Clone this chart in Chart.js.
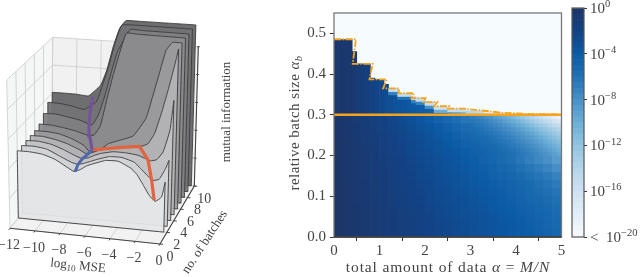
<!DOCTYPE html>
<html>
<head>
<meta charset="utf-8">
<title>mutual information and batch size</title>
<script src="https://cdn.jsdelivr.net/npm/chart.js@4/dist/chart.umd.min.js"></script>
<style>
  html, body { margin: 0; padding: 0; background: #fff; }
  canvas { position: absolute; top: 0; }
  #surface { left: 0; }
  #heatmap { left: 270px; }
  #colorbar { left: 560px; }
</style>
</head>
<body>
<canvas id="surface" width="270" height="277"></canvas>
<canvas id="heatmap" width="300" height="277"></canvas>
<canvas id="colorbar" width="80" height="277"></canvas>
<script>
// ---------- data: left panel, mutual information against log10 MSE ----------
const logMseGrid = [-12, -11, -10, -9, -8, -7.5, -7, -6.5, -6, -5, -4, -3, -2.5, -2, -1.5, -1, -0.5, -0.25];
const batchCounts = [2, 3, 4, 5, 6, 7, 8, 9, 10];
const miBatch2 = [.459, .46, .452, .425, .377, .355, .373, .402, .42, .452, .455, .416, .377, .311, .243, .205, .239, .343];
const miBatch3 = [.462, .465, .454, .415, .378, .369, .381, .398, .415, .443, .445, .42, .381, .341, .307, .319, .397, .456];
const miBatch4 = [.464, .467, .454, .425, .388, .374, .383, .404, .421, .441, .441, .432, .416, .401, .413, .471, .625, .834];
const miBatch5 = [.466, .467, .453, .43, .395, .373, .384, .402, .416, .435, .444, .458, .48, .553, .695, .863, 1.052, 1.158];
const miBatch6 = [.467, .467, .458, .432, .392, .347, .362, .383, .418, .451, .486, .617, .772, .939, 1.106, 1.164, 1.166, 1.166];
const miBatch7 = [.48, .479, .467, .451, .427, .432, .5, .687, .866, 1.166, 1.166, 1.166, 1.166, 1.166, 1.166, 1.166, 1.166, 1.166];
const miBatch8 = [.521, .524, .509, .493, .465, .538, .671, .84, .995, 1.16, 1.16, 1.16, 1.16, 1.16, 1.16, 1.16, 1.16, 1.16];
const miBatch9 = [.567, .565, .552, .534, .595, .717, .862, 1.032, 1.153, 1.16, 1.16, 1.16, 1.16, 1.16, 1.16, 1.16, 1.16, 1.16];
const miBatch10 = [.605, .605, .603, .596, .679, .791, .962, 1.096, 1.153, 1.155, 1.155, 1.155, 1.155, 1.155, 1.155, 1.155, 1.155, 1.155];
const miCurves = [miBatch2, miBatch3, miBatch4, miBatch5, miBatch6, miBatch7, miBatch8, miBatch9, miBatch10];

// branches of minima: [log10 MSE, no. of batches, mutual information]
const blueMse = [-7.42, -7.5, -7.48, -7.42, -7.33];
const blueBatch = [2, 3, 4, 5, 6];
const blueMi = [.354, .369, .373, .364, .365];
const purpleMse = [-7.33, -7.84, -8.25, -8.5, -8.64];
const purpleBatch = [6, 7, 8, 9, 10];
const purpleMi = [.365, .418, .462, .52, .593];
const redMse = [-1.08, -1.6, -2.19, -3.19, -5.1, -7.25];
const redBatch = [2, 3, 4, 5, 5.5, 6];
const redMi = [.211, .31, .404, .456, .415, .365];

const mseTicks = [-12, -10, -8, -6, -4, -2, 0];
const batchTicks = [0, 2, 4, 6, 8, 10];
const miTicks = [0, .2, .4, .6, .8, 1];

// ---------- data: heatmap, exponent e of the error 10^-e ----------
const lowerAlpha = [.1, .3, .5, .7, .9, 1.1, 1.3, 1.5, 1.7, 1.9, 2.1, 2.3, 2.5, 2.7, 2.9, 3.1, 3.3, 3.5, 3.7, 3.9, 4.1, 4.3, 4.5, 4.7, 4.9];
const lowerBatch = [.01, .03, .05, .07, .09, .11, .13, .15, .17, .19, .21, .23, .25, .27, .29];
const lowerExp = [
  [.1, .3, .5, .7, .9, 1.1, 1.3, 1.5, 1.7, 1.9, 2.1, 2.3, 2.5, 2.7, 2.9, 3.1, 3.3, 3.5, 3.7, 3.9, 4.1, 4.3, 4.5, 4.8, 5.1],
  [.1, .3, .5, .7, .9, 1.1, 1.3, 1.5, 1.7, 1.9, 2.1, 2.3, 2.5, 2.7, 2.9, 3.1, 3.3, 3.5, 3.7, 3.9, 4.1, 4.4, 4.6, 4.9, 5.2],
  [.1, .3, .5, .7, .9, 1.1, 1.3, 1.5, 1.7, 2, 2.2, 2.4, 2.6, 2.8, 3, 3.2, 3.4, 3.6, 3.8, 4, 4.3, 4.5, 4.8, 5, 5.3],
  [.1, .3, .5, .7, .95, 1.15, 1.35, 1.6, 1.8, 2, 2.3, 2.5, 2.7, 2.9, 3.1, 3.3, 3.5, 3.8, 4, 4.2, 4.5, 4.7, 5, 5.2, 5.5],
  [.1, .3, .6, .8, 1, 1.2, 1.4, 1.7, 1.9, 2.1, 2.4, 2.6, 2.8, 3, 3.2, 3.5, 3.7, 3.9, 4.2, 4.4, 4.7, 5, 5.2, 5.5, 5.8],
  [.1, .3, .6, .8, 1, 1.25, 1.5, 1.7, 2, 2.2, 2.4, 2.7, 2.9, 3.1, 3.4, 3.6, 3.8, 4.1, 4.3, 4.6, 4.9, 5.2, 5.5, 5.8, 6.2],
  [.1, .3, .6, .8, 1, 1.3, 1.5, 1.8, 2, 2.3, 2.5, 2.8, 3, 3.3, 3.5, 3.8, 4, 4.3, 4.5, 4.8, 5.1, 5.4, 5.8, 6.2, 6.6],
  [.1, .4, .6, .9, 1.1, 1.3, 1.6, 1.9, 2.1, 2.4, 2.6, 2.9, 3.1, 3.4, 3.6, 3.9, 4.2, 4.5, 4.8, 5.1, 5.4, 5.8, 6.2, 6.6, 7.1],
  [.1, .4, .6, .9, 1.1, 1.4, 1.6, 1.9, 2.2, 2.5, 2.7, 3, 3.3, 3.5, 3.8, 4.1, 4.4, 4.7, 5.1, 5.4, 5.9, 6.3, 6.8, 7.3, 7.9],
  [.1, .4, .7, .9, 1.2, 1.4, 1.7, 2, 2.3, 2.6, 2.8, 3.1, 3.4, 3.7, 4, 4.3, 4.7, 5, 5.4, 5.8, 6.4, 6.9, 7.5, 8.1, 8.8],
  [.1, .4, .7, .9, 1.2, 1.5, 1.8, 2.1, 2.4, 2.7, 3, 3.3, 3.6, 3.9, 4.2, 4.6, 5, 5.4, 5.9, 6.4, 7.1, 7.7, 8.4, 9.2, 10],
  [.1, .4, .7, 1, 1.3, 1.6, 1.9, 2.2, 2.5, 2.8, 3.2, 3.5, 3.9, 4.2, 4.6, 5, 5.4, 5.9, 6.5, 7.1, 7.9, 8.7, 9.6, 10.4, 11.2],
  [.2, .5, .8, 1.1, 1.4, 1.7, 2, 2.3, 2.7, 3, 3.4, 3.8, 4.2, 4.6, 5, 5.4, 6, 6.6, 7.3, 8, 9.1, 10, 11, 12, 12.8],
  [.2, .5, .8, 1.1, 1.5, 1.8, 2.2, 2.5, 2.9, 3.3, 3.7, 4.1, 4.6, 5, 5.5, 6, 6.7, 7.5, 8.4, 9.4, 11, 12, 13.2, 14.3, 15.3],
  [.2, .5, .9, 1.2, 1.6, 1.9, 2.3, 2.7, 3.2, 3.6, 4.2, 4.7, 5.2, 5.7, 6.3, 7, 8, 9.2, 10.4, 11.8, 13.8, 15, 16.2, 17.4, 18.6]
];

// finer cells where the colour changes fast, top right corner under the line
const detailAlpha = [3.05, 3.15, 3.25, 3.35, 3.45, 3.55, 3.65, 3.75, 3.85, 3.95, 4.05, 4.15, 4.25, 4.35, 4.45, 4.55, 4.65, 4.75, 4.85, 4.95];
const detailBatch = [.205, .215, .225, .235, .245, .255, .265, .275, .285, .295];
const detailExp = [
  [4.4, 4.5, 4.6, 4.8, 4.9, 5.1, 5.3, 5.5, 5.7, 5.9, 6.2, 6.5, 6.8, 7.1, 7.4, 7.8, 8.2, 8.6, 9, 9.5],
  [4.5, 4.6, 4.8, 4.9, 5.1, 5.3, 5.5, 5.7, 6, 6.2, 6.5, 6.8, 7.1, 7.5, 7.8, 8.2, 8.6, 9.1, 9.6, 10.1],
  [4.7, 4.8, 5, 5.1, 5.3, 5.5, 5.8, 6, 6.3, 6.6, 6.9, 7.2, 7.5, 7.9, 8.3, 8.7, 9.2, 9.7, 10.2, 10.7],
  [4.9, 5, 5.2, 5.4, 5.6, 5.8, 6.1, 6.3, 6.6, 6.9, 7.3, 7.6, 8, 8.4, 8.8, 9.3, 9.8, 10.3, 10.9, 11.4],
  [5.1, 5.3, 5.4, 5.6, 5.9, 6.1, 6.4, 6.7, 7, 7.3, 7.7, 8.1, 8.5, 8.9, 9.4, 9.9, 10.4, 11, 11.6, 12.2],
  [5.3, 5.5, 5.7, 5.9, 6.2, 6.5, 6.8, 7.1, 7.4, 7.8, 8.2, 8.6, 9.1, 9.5, 10, 10.6, 11.2, 11.8, 12.4, 13],
  [5.6, 5.8, 6, 6.3, 6.6, 6.9, 7.2, 7.6, 8, 8.4, 8.8, 9.3, 9.8, 10.3, 10.9, 11.5, 12.1, 12.8, 13.4, 14.1],
  [5.9, 6.2, 6.4, 6.7, 7, 7.4, 7.8, 8.2, 8.6, 9.1, 9.6, 10.1, 10.7, 11.3, 11.9, 12.6, 13.3, 14, 14.7, 15.4],
  [6.3, 6.6, 6.9, 7.2, 7.6, 8, 8.4, 8.9, 9.4, 9.9, 10.5, 11.1, 11.8, 12.5, 13.2, 13.9, 14.7, 15.4, 16.2, 17],
  [6.8, 7.1, 7.5, 7.9, 8.3, 8.8, 9.3, 9.8, 10.4, 11, 11.7, 12.4, 13.1, 13.9, 14.7, 15.5, 16.3, 17.1, 18, 18.8]
];

// region above alpha_b = 0.3: column, top edge, body exponent, cap cells
const upperAlpha = [.05, .15, .25, .35, .45, .55, .65, .75, .85, .95, 1.05, 1.15, 1.25, 1.35, 1.45, 1.55, 1.65, 1.75, 1.85, 1.95, 2.05, 2.15, 2.25, 2.35, 2.45, 2.55, 2.65, 2.75, 2.85, 2.95, 3.05, 3.15, 3.25, 3.35, 3.45, 3.55, 3.65];
const upperEdge = [.485, .485, .485, .485, .455, .425, .425, .425, .39, .387, .387, .375, .365, .365, .353, .353, .353, .345, .341, .341, .331, .331, .321, .321, .321, .315, .315, .315, .315, .31, .31, .31, .31, .305, .305, .305, .305];
const upperBody = [.4, .4, .4, .4, .6, 1.2, 1.4, 1.6, 2, 2.2, 2.5, 2.9, 3, 3.3, 3.4, 3.6, 3.8, 4, 4.1, 4.3, 4.4, 4.6, 4.8, 5, 5.3, 8, 8.5, 9, 10, 14, 14, 14.5, 15, 17, 17, 17.5, 18];
const upperCaps = [[], [], [], [], [], [], [], [], [], [], [], [], [7, 15], [7, 15], [6, 15], [6, 15], [6, 15], [7, 15], [7, 15], [7, 15], [8, 15], [8, 15], [10, 16], [10, 16], [10, 16], [15], [15], [15], [15], [], [], [], [], [], [], [], []];

// orange boundaries
const edgeAlpha = [0, .483, .41, .85, .78, 1.16, 1.08, 1.43, 1.42, 1.76, 1.7, 2.01, 1.96, 2.27, 2.2, 2.53, 2.5, 2.86, 3.3, 3.7, 4.3, 5];
const edgeBatch = [.4855, .4855, .425, .425, .387, .387, .365, .365, .353, .353, .341, .341, .331, .331, .321, .321, .315, .315, .31, .305, .302, .301];
const lineAlpha = [0, 5];
const lineBatch = [.3, .3];

const alphaTicks = [0, 1, 2, 3, 4, 5];
const batchSizeTicks = [0, .1, .2, .3, .4, .5];

// colour bar
const barLevels = [0, .5, 1, 1.5, 2, 2.5, 3, 3.5, 4, 4.5, 5, 5.5, 6, 6.5, 7, 7.5, 8, 8.5, 9, 9.5, 10, 10.5, 11, 11.5, 12, 12.5, 13, 13.5, 14, 14.5, 15, 15.5, 16, 16.5, 17, 17.5, 18, 18.5, 19, 19.5];
const barTicks = [0, 4, 8, 12, 16, 20];

// ---------- colours ----------
const colorStops = [[0, 28, 53, 103], [2, 19, 66, 132], [4, 11, 90, 165], [6, 33, 113, 181], [8, 72, 143, 198], [10, 107, 174, 214], [12, 146, 196, 224], [14, 180, 212, 233], [16, 207, 225, 241], [18, 226, 237, 247], [20, 246, 250, 253]];
const sliceColors = ['rgba(228,229,232,.94)', 'rgba(210,211,214,.94)', 'rgba(195,196,198,.94)', 'rgba(180,180,182,.94)', 'rgba(155,155,157,.94)', 'rgba(140,140,142,.94)', 'rgba(128,128,130,.94)', 'rgba(115,115,117,.95)', 'rgba(104,104,106,.96)'];
const textColor = '#444';
const serif = '"Liberation Serif", serif';

function expColor(e) {
  for (let i = 1; i < colorStops.length; i++) {
    const a = colorStops[i - 1], b = colorStops[i];
    if (e <= b[0]) {
      const t = (e - a[0]) / (b[0] - a[0]);
      return 'rgb(' + [1, 2, 3].map(k => Math.round(a[k] + (b[k] - a[k]) * t)).join(',') + ')';
    }
  }
  return 'rgb(246,250,253)';
}

// write a label made of normal, italic, subscript and superscript pieces
function richText(ctx, parts, x, y, angle, size, alignLeft) {
  ctx.save();
  ctx.translate(x, y);
  ctx.rotate(angle * Math.PI / 180);
  ctx.fillStyle = textColor;
  ctx.textBaseline = 'middle';
  ctx.textAlign = 'left';
  const fontOf = p => (p.italic ? 'italic ' : '') + (p.sub || p.sup ? size * .7 : size) + 'px ' + serif;
  let total = 0;
  parts.forEach(p => { ctx.font = fontOf(p); total += ctx.measureText(p.t).width; });
  let pos = alignLeft ? 0 : -total / 2;
  parts.forEach(p => {
    ctx.font = fontOf(p);
    ctx.fillText(p.t, pos, p.sub ? size * .25 : p.sup ? -size * .3 : 0);
    pos += ctx.measureText(p.t).width;
  });
  ctx.restore();
}

// ---------- left panel: 3d box flattened onto the page ----------
const floorCorners = { A: [10, 228.3], B: [160, 244], C: [194.3, 186], D: [51.7, 176.7] };
const topCorners = { A: [6.7, 80], B: [164, 97], C: [198.3, 46.7], D: [52.7, 37.3] };

function project(mse, batch, mi) {
  const u = (mse + 12) / 12, v = batch / 10;
  const pick = (corners, k) => {
    const front = corners.A[k] + (corners.B[k] - corners.A[k]) * u;
    const back = corners.D[k] + (corners.C[k] - corners.D[k]) * u;
    return front + (back - front) * v;
  };
  const low = [pick(floorCorners, 0), pick(floorCorners, 1)];
  const high = [pick(topCorners, 0), pick(topCorners, 1)];
  return { x: low[0] + (high[0] - low[0]) * mi, y: low[1] + (high[1] - low[1]) * mi };
}

function segment(data, color, width) {
  return { data: data, borderColor: color, borderWidth: width, backgroundColor: 'transparent', showLine: true, pointRadius: 0, fill: false };
}

const surfaceSets = [];

// branches go on top
surfaceSets.push(segment(blueMse.map((m, i) => project(m, blueBatch[i], blueMi[i])), '#4f68ad', 3));
surfaceSets.push(segment(purpleMse.map((m, i) => project(m, purpleBatch[i], purpleMi[i])), '#75539b', 3.2));
surfaceSets.push(segment(redMse.map((m, i) => project(m, redBatch[i], redMi[i])), '#e2633f', 3.2));

// slices, front one first so it is painted last
batchCounts.forEach((b, i) => {
  const curve = logMseGrid.map((m, k) => project(m, b, miCurves[i][k]));
  const last = logMseGrid[logMseGrid.length - 1];
  const first = logMseGrid[0];
  const p0 = curve[0], p1 = curve[curve.length - 1], f1 = project(last, b, 0), f0 = project(first, b, 0);
  surfaceSets.push({
    data: [p0, ...curve, p1, f1, f1, f0, f0, p0],
    borderColor: '#3a3a3a', borderWidth: .9, backgroundColor: sliceColors[i],
    showLine: true, pointRadius: 0, fill: 'shape', tension: .12
  });
});

// axes lines and tick marks
const axisColor = '#444', gridColor = '#cfcfcf';
surfaceSets.push(segment([project(-12, 0, 0), project(0, 0, 0), project(0, 10, 0), project(0, 10, 1)], axisColor, 1.1));
mseTicks.forEach(m => {
  const p = project(m, 0, 0);
  surfaceSets.push(segment([p, project(m, -.3, 0)], axisColor, 1));
});
batchTicks.forEach(b => {
  const p = project(0, b, 0);
  surfaceSets.push(segment([p, project(.25, b, 0)], axisColor, 1));
});
miTicks.forEach(z => {
  surfaceSets.push(segment([project(-.1, 10, z), project(.12, 10, z)], axisColor, 1));
});

// grid on the three walls
mseTicks.forEach(m => {
  surfaceSets.push(segment([project(m, 0, 0), project(m, 10, 0), project(m, 10, 1)], gridColor, .9));
});
batchTicks.forEach(b => {
  surfaceSets.push(segment([project(0, b, 0), project(-12, b, 0), project(-12, b, 1)], gridColor, .9));
});
miTicks.forEach(z => {
  surfaceSets.push(segment([project(-12, 0, z), project(-12, 10, z), project(0, 10, z)], gridColor, .9));
});

// the three walls
const wall = (pts, color) => ({ data: [...pts, pts[0]], borderColor: 'transparent', borderWidth: 0, backgroundColor: color, showLine: true, pointRadius: 0, fill: 'shape' });
surfaceSets.push(wall([project(-12, 0, 0), project(0, 0, 0), project(0, 10, 0), project(-12, 10, 0)], '#f2f2f2'));
surfaceSets.push(wall([project(-12, 10, 0), project(0, 10, 0), project(0, 10, 1), project(-12, 10, 1)], '#f1f1f1'));
surfaceSets.push(wall([project(-12, 0, 0), project(-12, 10, 0), project(-12, 10, 1), project(-12, 0, 1)], '#f4f7f6'));

const surfaceText = {
  id: 'surfaceText',
  afterDraw(chart) {
    const ctx = chart.ctx;
    mseTicks.forEach(m => {
      const p = project(m, 0, 0);
      richText(ctx, [{ t: m === 0 ? '0' : '\u2212' + Math.abs(m) }], p.x - 1, p.y + 17, 0, 14);
    });
    batchTicks.forEach(b => {
      const p = project(0, b, 0);
      richText(ctx, [{ t: String(b) }], p.x + 10, p.y + 13, 0, 14);
    });
    richText(ctx, [{ t: 'log' }, { t: '10', sub: true }, { t: ' MSE' }], 78, 266, 6, 13);
    richText(ctx, [{ t: 'no. of batches' }], 205, 242, -57, 13);
    richText(ctx, [{ t: 'mutual information' }], 227, 112, -90, 13);
  }
};

new Chart(document.getElementById('surface'), {
  type: 'scatter',
  data: { datasets: surfaceSets },
  options: {
    responsive: false,
    animation: false,
    events: [],
    layout: { padding: 0 },
    plugins: { legend: { display: false }, tooltip: { enabled: false } },
    scales: {
      x: { type: 'linear', min: 0, max: 270, display: false },
      y: { type: 'linear', min: 0, max: 277, reverse: true, display: false }
    }
  },
  plugins: [surfaceText]
});

// ---------- heatmap ----------
const lowerCells = [];
lowerBatch.forEach((b, r) => {
  lowerAlpha.forEach((a, c) => {
    lowerCells.push({ x: a, y: [b - .01, b + .01], e: lowerExp[r][c] });
  });
});

const detailCells = [];
detailBatch.forEach((b, r) => {
  detailAlpha.forEach((a, c) => {
    detailCells.push({ x: a, y: [b - .005, b + .005], e: detailExp[r][c] });
  });
});

const upperCells = [];
upperAlpha.forEach((a, c) => {
  const caps = upperCaps[c];
  const bodyTop = upperEdge[c] - caps.length * .008;
  upperCells.push({ x: a, y: [.3, bodyTop], e: upperBody[c] });
  caps.forEach((e, k) => {
    upperCells.push({ x: a, y: [bodyTop + k * .008, bodyTop + (k + 1) * .008], e: e });
  });
});

const cellSet = (cells, axisId) => ({
  type: 'bar', xAxisID: axisId, data: cells, backgroundColor: cells.map(c => expColor(c.e)),
  grouped: false, barPercentage: 1, categoryPercentage: 1, order: 1
});

// hidden copies of the alpha axis, so each block of cells gets its own bar width
const hiddenAlpha = () => ({
  type: 'linear', min: 0, max: 5, position: 'bottom', offset: false,
  afterFit(scale) { scale.height = 0; },
  grid: { display: false }, border: { display: false }, ticks: { display: false }
});

const heatText = {
  id: 'heatText',
  beforeDatasetsDraw(chart) {
    const a = chart.chartArea, ctx = chart.ctx;
    ctx.fillStyle = '#f6fbfe';
    ctx.fillRect(a.left, a.top, a.width, a.height);
  },
  afterDraw(chart) {
    const a = chart.chartArea, ctx = chart.ctx;
    ctx.save();
    ctx.strokeStyle = '#777';
    ctx.lineWidth = 1.3;
    ctx.strokeRect(a.left, a.top, a.width, a.height);
    ctx.strokeStyle = '#333';
    ctx.beginPath();
    ctx.moveTo(a.left, a.bottom);
    ctx.lineTo(a.right, a.bottom);
    ctx.stroke();
    ctx.restore();
    ctx.save();
    ctx.letterSpacing = '.85px';
    richText(ctx, [{ t: 'total amount of data ' }, { t: '\u03b1', italic: true }, { t: ' = ' }, { t: 'M/N', italic: true }], 178, 268, 0, 15.5);
    ctx.letterSpacing = '.45px';
    richText(ctx, [{ t: 'relative batch size ' }, { t: '\u03b1', italic: true }, { t: 'b', italic: true, sub: true }], 25, 123, -90, 15);
    ctx.restore();
  }
};

new Chart(document.getElementById('heatmap'), {
  data: {
    datasets: [
      { type: 'line', data: lineAlpha.map((a, i) => ({ x: a, y: lineBatch[i] })), borderColor: '#f5a31c', borderWidth: 2.6, pointRadius: 0 },
      { type: 'line', data: edgeAlpha.map((a, i) => ({ x: a, y: edgeBatch[i] })), borderColor: '#f5a31c', borderWidth: 1.8, borderDash: [7, 1.5, 1.5, 1.5], pointRadius: 0 },
      cellSet(detailCells, 'x3'),
      cellSet(upperCells, 'x2'),
      cellSet(lowerCells, 'x')
    ]
  },
  options: {
    responsive: false,
    animation: false,
    events: [],
    layout: { padding: { top: 9, right: 8.5, bottom: 0, left: 0 } },
    plugins: { legend: { display: false }, tooltip: { enabled: false } },
    scales: {
      x: {
        type: 'linear', min: 0, max: 5, position: 'bottom', offset: false,
        afterFit(scale) { scale.height = 40; },
        afterBuildTicks(scale) { scale.ticks = alphaTicks.map(v => ({ value: v })); },
        grid: { drawOnChartArea: false, tickLength: 4, tickColor: '#333' },
        border: { display: false },
        ticks: { font: { family: serif, size: 15 }, color: textColor, padding: 1, maxRotation: 0, callback: v => String(v) }
      },
      x2: hiddenAlpha(),
      x3: hiddenAlpha(),
      y: {
        type: 'linear', min: 0, max: .55,
        afterFit(scale) { scale.width = 64; },
        afterBuildTicks(scale) { scale.ticks = batchSizeTicks.map(v => ({ value: v })); },
        grid: { drawOnChartArea: false, tickLength: 4, tickColor: '#333' },
        border: { display: false },
        ticks: { font: { family: serif, size: 15 }, color: textColor, padding: 4, callback: v => v.toFixed(1) }
      }
    }
  },
  plugins: [heatText]
});

// ---------- colour bar ----------
const barFrame = {
  id: 'barFrame',
  afterDraw(chart) {
    const a = chart.chartArea, ctx = chart.ctx, scale = chart.scales.y;
    ctx.save();
    ctx.strokeStyle = '#555';
    ctx.lineWidth = 1.2;
    ctx.strokeRect(a.left, a.top, a.width, a.height);
    ctx.restore();
    barTicks.forEach(e => {
      const y = scale.getPixelForValue(e);
      const exponent = e === 0 ? '0' : '\u2212' + e;
      const parts = [{ t: '10' }, { t: exponent, sup: true }];
      if (e === 20) parts.unshift({ t: '<  ' });
      richText(ctx, parts, a.right + 6, y + 1, 0, 15, true);
    });
  }
};

new Chart(document.getElementById('colorbar'), {
  type: 'bar',
  data: {
    labels: ['error'],
    datasets: [{
      data: barLevels.map(e => ({ x: 'error', y: [e, e + .5] })),
      backgroundColor: barLevels.map(e => expColor(e + .25)),
      grouped: false, barPercentage: 1, categoryPercentage: 1
    }]
  },
  options: {
    responsive: false,
    animation: false,
    events: [],
    layout: { padding: { top: 8, right: 0, bottom: 40, left: 12 } },
    plugins: { legend: { display: false }, tooltip: { enabled: false } },
    scales: {
      x: { display: false },
      y: {
        type: 'linear', min: 0, max: 20, reverse: true, position: 'right',
        afterFit(scale) { scale.width = 56; },
        afterBuildTicks(scale) { scale.ticks = barTicks.map(v => ({ value: v })); },
        grid: { drawOnChartArea: false, tickLength: 3, tickColor: '#333' },
        border: { display: false },
        ticks: { display: false }
      }
    }
  },
  plugins: [barFrame]
});
</script>
</body>
</html>
